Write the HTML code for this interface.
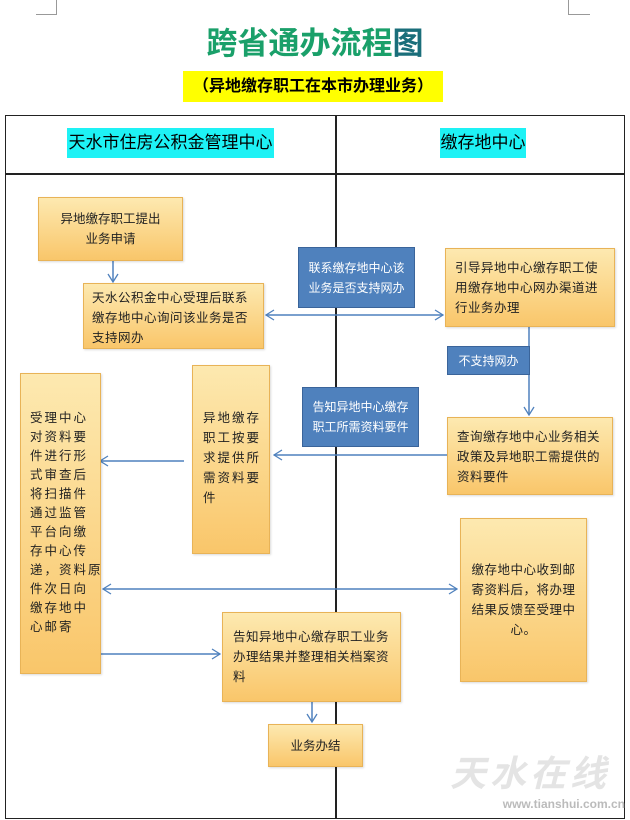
<!DOCTYPE html>
<html><head><meta charset="utf-8"><style>
body{margin:0;width:630px;height:820px;background:#fff;position:relative;overflow:hidden;font-family:"Liberation Sans","Noto Sans CJK SC",sans-serif}
.a{position:absolute;box-sizing:border-box}
.o{background:linear-gradient(#fde9b0,#f9c66a);border:1px solid #e8b357;color:#222;font-size:12.5px;line-height:20px;box-shadow:1px 1px 2px rgba(0,0,0,.15);white-space:nowrap}
.b{background:#4f81bd;border:1px solid #3a649a;color:#fff;font-size:12px;line-height:20px;text-align:center;display:flex;align-items:center;justify-content:center}
.c{display:flex;align-items:center;justify-content:center;text-align:center}
</style></head><body>
<div class="a" style="left:56px;top:0;width:1px;height:14px;background:#999"></div>
<div class="a" style="left:36px;top:14px;width:21px;height:1px;background:#999"></div>
<div class="a" style="left:568px;top:0;width:1px;height:14px;background:#999"></div>
<div class="a" style="left:568px;top:14px;width:22px;height:1px;background:#999"></div>
<div class="a" style="left:195px;top:25px;width:240px;text-align:center;font-size:31px;font-weight:bold;line-height:38px;color:#1aa06a">跨省通办流程<span style="color:#1a6e7a">图</span></div>
<div class="a" style="left:183px;top:71px;width:260px;height:31px;background:#ffff00;font-size:16px;font-weight:bold;line-height:31px;text-align:center">（异地缴存职工在本市办理业务）</div>
<div class="a" style="left:5px;top:115px;width:620px;height:704px;border:1.5px solid #222"></div>
<div class="a" style="left:5px;top:173px;width:620px;height:1.5px;background:#222"></div>
<div class="a" style="left:335px;top:115px;width:1.5px;height:704px;background:#222"></div>
<div class="a" style="left:67px;top:128px;width:207px;height:30px;background:#1ef2f5;font-size:17px;line-height:30px;text-align:center">天水市住房公积金管理中心</div>
<div class="a" style="left:440px;top:128px;width:86px;height:30px;background:#1ef2f5;font-size:17px;line-height:30px;text-align:center">缴存地中心</div>

<svg class="a" style="left:0;top:0" width="630" height="820">
<defs><marker id="m" markerWidth="10" markerHeight="12" refX="9" refY="6" orient="auto-start-reverse" markerUnits="userSpaceOnUse"><path d="M1,1 L9,6 L1,11" fill="none" stroke="#4f81bd" stroke-width="1.3"/></marker></defs>
<g stroke="#4f81bd" stroke-width="1.5" fill="none">
<line x1="113" y1="261" x2="113" y2="282" marker-end="url(#m)"/>
<line x1="266" y1="315" x2="443" y2="315" marker-end="url(#m)" marker-start="url(#m)"/>
<line x1="529" y1="327" x2="529" y2="415" marker-end="url(#m)"/>
<line x1="447" y1="455" x2="274" y2="455" marker-end="url(#m)"/>
<line x1="184" y1="461" x2="100" y2="461" marker-end="url(#m)"/>
<line x1="103" y1="589" x2="457" y2="589" marker-end="url(#m)" marker-start="url(#m)"/>
<line x1="101" y1="654" x2="220" y2="654" marker-end="url(#m)"/>
<line x1="312" y1="702" x2="312" y2="722" marker-end="url(#m)"/>
</g>
</svg>

<div class="a o c" style="left:38px;top:197px;width:145px;height:64px">异地缴存职工提出<br>业务申请</div>
<div class="a o" style="left:83px;top:283px;width:181px;height:66px;padding:4px 8px;letter-spacing:.5px">天水公积金中心受理后联系<br>缴存地中心询问该业务是否<br>支持网办</div>
<div class="a b" style="left:298px;top:247px;width:117px;height:61px">联系缴存地中心该<br>业务是否支持网办</div>
<div class="a o" style="left:445px;top:248px;width:170px;height:79px;padding:9px 9px;letter-spacing:.5px">引导异地中心缴存职工使<br>用缴存地中心网办渠道进<br>行业务办理</div>
<div class="a b" style="left:447px;top:346px;width:83px;height:29px">不支持网办</div>
<div class="a b" style="left:302px;top:387px;width:117px;height:60px">告知异地中心缴存<br>职工所需资料要件</div>
<div class="a o" style="left:447px;top:417px;width:166px;height:78px;padding:9px 9px;letter-spacing:.5px">查询缴存地中心业务相关<br>政策及异地职工需提供的<br>资料要件</div>
<div class="a o" style="left:192px;top:365px;width:78px;height:189px;padding:42px 0 0 10px;letter-spacing:2px">异地缴存<br>职工按要<br>求提供所<br>需资料要<br>件</div>
<div class="a o" style="left:20px;top:373px;width:81px;height:301px;padding:35px 0 0 9px;letter-spacing:2px;line-height:19px">受理中心<br>对资料要<br>件进行形<br>式审查后<br>将扫描件<br>通过监管<br>平台向缴<br>存中心传<br>递，资料原<br>件次日向<br>缴存地中<br>心邮寄</div>
<div class="a o c" style="left:460px;top:518px;width:127px;height:164px;letter-spacing:.5px">缴存地中心收到邮<br>寄资料后，将办理<br>结果反馈至受理中<br>心。</div>
<div class="a o" style="left:222px;top:612px;width:179px;height:90px;padding:14px 10px;letter-spacing:.5px">告知异地中心缴存职工业务<br>办理结果并整理相关档案资<br>料</div>
<div class="a o c" style="left:268px;top:724px;width:95px;height:43px">业务办结</div>

<div class="a" style="left:450px;top:745px;width:180px;font-size:36px;color:#e4e4e4;font-weight:bold;letter-spacing:4px;font-style:italic">天水在线</div>
<div class="a" style="left:460px;top:797px;width:165px;font-size:12px;color:#bbb;font-weight:bold;text-align:right">www.tianshui.com.cn</div>
</body></html>
